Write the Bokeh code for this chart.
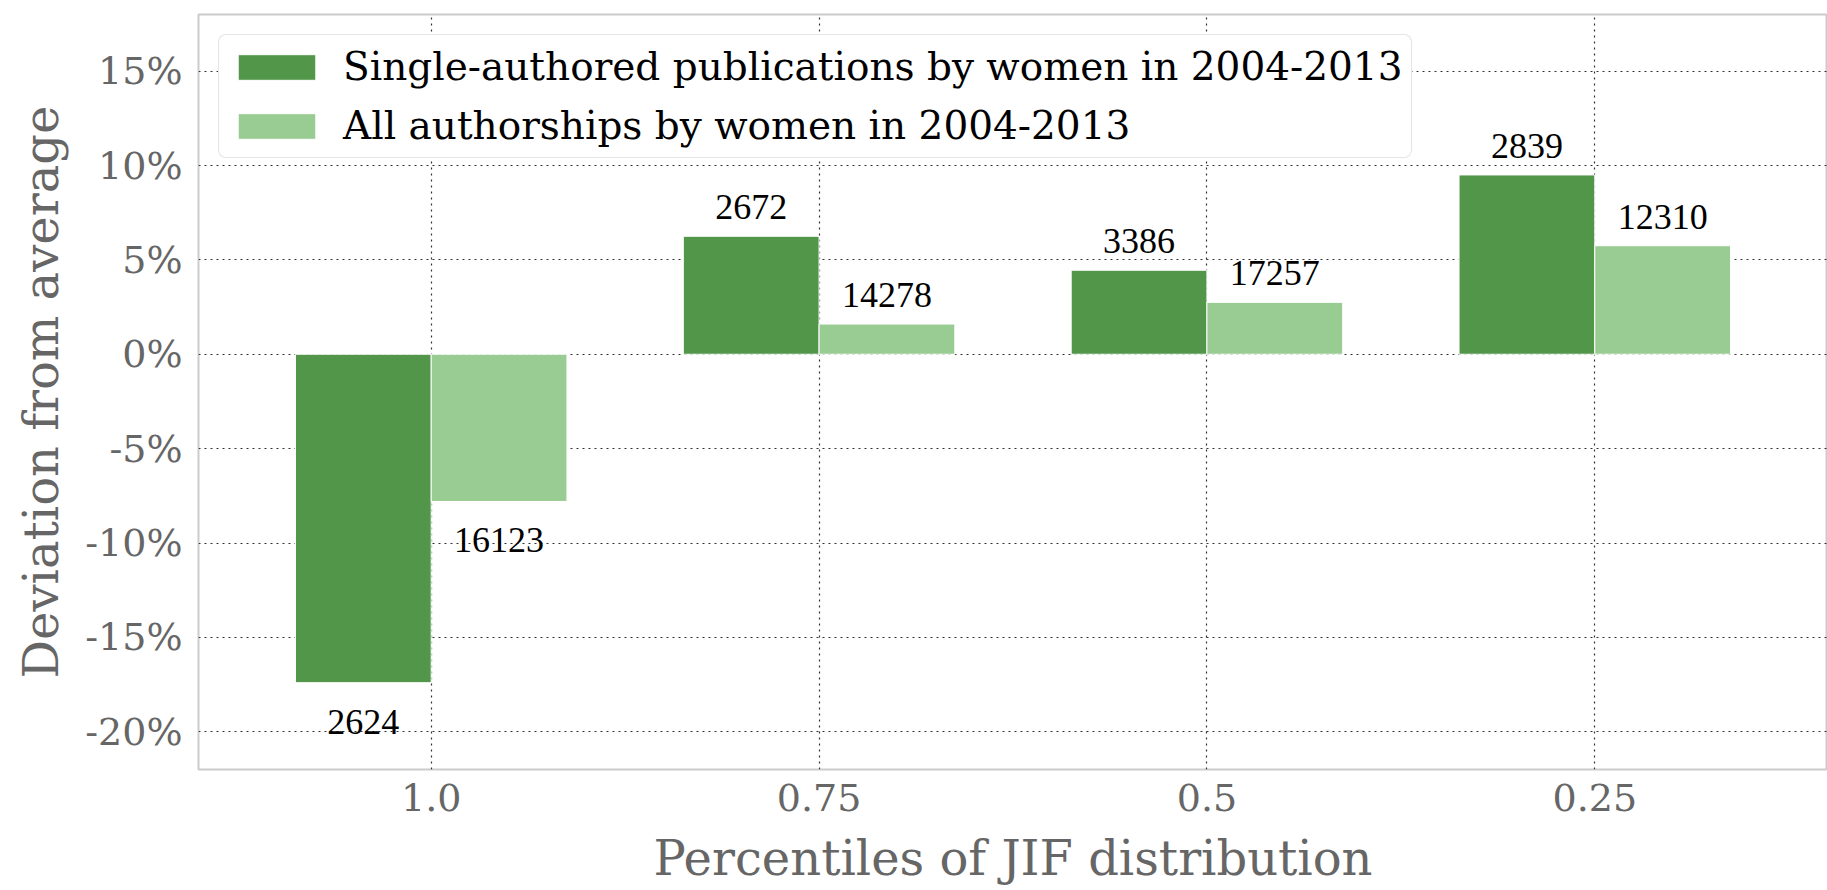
from bokeh.plotting import figure
from bokeh.models import ColumnDataSource, FactorRange, LabelSet, Legend, PrintfTickFormatter, FixedTicker
from bokeh.transform import dodge
from bokeh.embed import file_html
from bokeh.resources import INLINE

percentiles = ["1.0", "0.75", "0.5", "0.25"]
single_dev = [-17.4, 6.25, 4.45, 9.5]
all_dev = [-7.8, 1.6, 2.75, 5.75]
single_counts = [2624, 2672, 3386, 2839]
all_counts = [16123, 14278, 17257, 12310]
series_names = ["Single-authored publications by women in 2004-2013",
                "All authorships by women in 2004-2013"]
y_ticks = [-20, -15, -10, -5, 0, 5, 10, 15]

FONT = "DejaVu Serif"
DARK = "#519649"
LIGHT = "#99cc93"
GRAY = "#666666"

src = ColumnDataSource(dict(
    cat=percentiles,
    single=single_dev,
    allw=all_dev,
    s_lab=[str(v) for v in single_counts],
    a_lab=[str(v) for v in all_counts],
    s_off=[17 if v >= 0 else -51 for v in single_dev],
    a_off=[17 if v >= 0 else -51 for v in all_dev],
))

xr = FactorRange(*percentiles, range_padding=0.05, range_padding_units="percent")
p = figure(x_range=xr, y_range=(-22, 18), width=1827, height=890,
           output_backend="svg", toolbar_location=None,
           min_border_left=198, min_border_right=0, min_border_top=14, min_border_bottom=121)

r1 = p.vbar(x=dodge("cat", -0.175, range=p.x_range), top="single", bottom=0, width=0.35,
            source=src, fill_color=DARK, line_color="white", line_width=1)
r2 = p.vbar(x=dodge("cat", 0.175, range=p.x_range), top="allw", bottom=0, width=0.35,
            source=src, fill_color=LIGHT, line_color="white", line_width=1)

for xo, ycol, tcol, ocol in [(-0.175, "single", "s_lab", "s_off"), (0.175, "allw", "a_lab", "a_off")]:
    ls = LabelSet(x=dodge("cat", xo, range=p.x_range), y=ycol, text=tcol, y_offset=ocol,
                  source=src, text_align="center", text_baseline="alphabetic",
                  text_font=FONT, text_font_size="36px", text_color="black")
    p.add_layout(ls)

legend = Legend(items=[(series_names[0], [r1]), (series_names[1], [r2])],
                location="top_left", margin=20, padding=9, spacing=14,
                glyph_width=97, glyph_height=32, label_standoff=18,
                label_text_font=FONT, label_text_font_size="39px", label_text_color="black",
                border_line_color="#cccccc", border_line_width=1.5, background_fill_alpha=1.0)
if "border_radius" in Legend.properties():
    legend.border_radius = 8
p.add_layout(legend)

p.yaxis.ticker = FixedTicker(ticks=y_ticks)
p.yaxis.formatter = PrintfTickFormatter(format="%d%%")
p.xaxis.axis_label = "Percentiles of JIF distribution"
p.yaxis.axis_label = "Deviation from average"

for ax in (p.xaxis, p.yaxis):
    ax.axis_line_color = None
    ax.major_tick_line_color = None
    ax.minor_tick_line_color = None
    ax.major_label_text_font = FONT
    ax.major_label_text_font_size = "38px"
    ax.major_label_text_color = GRAY
    ax.axis_label_text_font = FONT
    ax.axis_label_text_font_size = "48px"
    ax.axis_label_text_color = GRAY
    ax.axis_label_text_font_style = "normal"
p.xaxis.major_label_standoff = 8
p.yaxis.major_label_standoff = 10
p.xaxis.axis_label_standoff = 16
p.yaxis.axis_label_standoff = 13

p.xgrid.grid_line_color = "#333333"
p.ygrid.grid_line_color = "#333333"
p.xgrid.grid_line_dash = "2 4"
p.ygrid.grid_line_dash = "2 4"
p.xgrid.grid_line_width = 1.2
p.ygrid.grid_line_width = 1.2

p.outline_line_color = "#cccccc"
p.outline_line_width = 2
p.background_fill_color = "white"

open("out.html", "w").write(file_html(p, INLINE))
